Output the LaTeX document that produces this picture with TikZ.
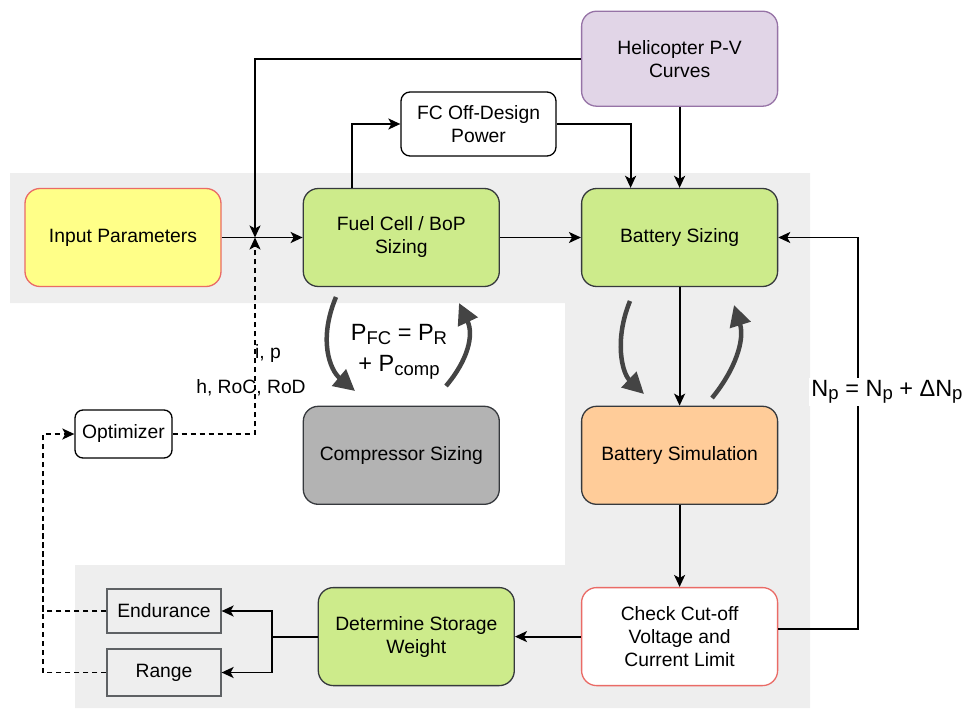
\documentclass[tikz,border=0pt]{standalone}
\usepackage{fontspec}
\setmainfont{Liberation Sans}
\usetikzlibrary{positioning, arrows.meta, backgrounds}
\definecolor{fundal}{HTML}{EEEEEE}
\definecolor{contur}{HTML}{36393D}
\definecolor{verde}{HTML}{CDEB8B}
\definecolor{galben}{HTML}{FFFF88}
\definecolor{rosu}{HTML}{EA6B66}
\definecolor{mov}{HTML}{E1D5E7}
\definecolor{movcontur}{HTML}{9673A6}
\definecolor{portocaliu}{HTML}{FFCC99}
\definecolor{gri}{HTML}{B3B3B3}
\definecolor{arc}{HTML}{444444}
\newcommand{\jos}[1]{\raisebox{-0.28ex}{\fontsize{18.5}{18.5}\selectfont #1}}

\begin{document}
\begin{tikzpicture}[
        x=1pt, y=-1pt,
        font=\fontsize{19.3}{23}\selectfont,
        bloc/.style={draw=contur, rounded corners=15pt, align=center, minimum width=196pt, minimum height=98pt, inner sep=3pt, line width=1.3pt},
        mic/.style={draw, rounded corners=9pt, align=center, inner sep=3pt, line width=1.3pt},
        rezultat/.style={draw=contur!80, fill=fundal, minimum width=114pt, inner sep=3pt, line width=1.2pt},
        eticheta/.style={align=center, inner sep=2pt},
        mare/.style={font=\fontsize{23.5}{31}\selectfont},
        sageata/.style={-{Stealth[length=12pt, width=11pt, inset=3pt]}, line width=1.8pt},
        linie/.style={line width=1.8pt},
        punctat/.style={dash pattern=on 5pt off 4pt},
        curba/.style={draw=arc, line width=4.5pt, -{Triangle[length=21pt, width=21pt]}},
    ]
        \useasboundingbox (0,0) rectangle (963,709);
        \node[bloc, fill=galben, draw=rosu] (input) at (123,237.5) {Input Parameters};
        \node[bloc, fill=verde, right=81pt of input] (fcsz) {Fuel Cell / BoP\\Sizing};
        \node[bloc, fill=verde, right=81pt of fcsz] (batsz) {Battery Sizing};
        \node[bloc, fill=mov, draw=movcontur, above=81pt of batsz, minimum height=95pt] (heli) {Helicopter P-V\\Curves};
        \node[bloc, fill=gri, below=118.5pt of fcsz] (comp) {Compressor Sizing};
        \node[bloc, fill=portocaliu, below=118.5pt of batsz] (batsim) {Battery Simulation};
        \node[bloc, fill=white, draw=rosu, below=82pt of batsim] (check) {Check Cut-off\\Voltage and\\Current Limit};
        \node[bloc, fill=verde, left=66pt of check] (det) {Determine Storage\\Weight};
        \node[mic, fill=white, minimum width=155pt, minimum height=64pt] (fcoff) at (478.5,124) {FC Off-Design\\Power};
        \node[mic, fill=white, minimum width=97pt, minimum height=48pt, rounded corners=8pt] (optim) at (123.5,434) {Optimizer};
        \node[rezultat, minimum height=44pt] (endur) at (164,611) {Endurance};
        \node[rezultat, minimum height=47pt] (range) at (164,672.5) {Range};
        \begin{scope}[on background layer]
            \fill[fundal] (10,173) -- (810,173) -- (810,708) -- (75,708) -- (75,565)
                -- (565,565) -- (565,303) -- (10,303) -- cycle;
        \end{scope}
        \coordinate (junc) at (255,237.5);
        \coordinate (npline) at (858,400);
        \coordinate (split) at ([xshift=-46pt]det.west);
        \coordinate (fbline) at (43,520);
        % main flow
        \draw[sageata] (input) -- (fcsz);
        \draw[sageata] (heli.west) -| (junc);
        \draw[sageata, punctat] (optim.east) -| (junc);
        \draw[sageata] ([xshift=-49pt]fcsz.north) |- (fcoff.west);
        \draw[sageata] (fcoff.east) -| ([xshift=-49pt]batsz.north);
        \draw[sageata] (heli) -- (batsz);
        \draw[sageata] (fcsz) -- (batsz);
        \draw[sageata] (batsz) -- (batsim);
        \draw[sageata] (batsim) -- (check);
        \draw[sageata] ([yshift=8pt]check.east) -| (npline) |- (batsz.east);
        \draw[sageata] (check) -- (det);
        \draw[linie] (det.west) -- (split);
        \draw[sageata] (split) |- (endur.east);
        \draw[sageata] (split) |- (range.east);
        % feedback to optimizer
        \draw[sageata, punctat] (endur.west) -| (fbline) |- (optim.west);
        \draw[linie, punctat] (range.west) -| (fbline);
        % labels
        \node[eticheta, mare, fill=white] (nplabel) at (887,392)
            {N\jos{p} = N\jos{p} + ΔN\jos{p}};
        \node[eticheta, anchor=west] (iplabel) at (253,354) {i, p};
        \node[eticheta] (hlabel) at (251,388) {h, RoC, RoD};
        \node[eticheta, mare] (pfclabel) at (399,352)
            {P\jos{FC} = P\jos{R}\\+ P\jos{comp}};
        % curved arrows
        \draw[curba] (336,297) .. controls (318,340) and (330,370) .. (355,391);
        \draw[curba] (446,386) .. controls (468,360) and (474,335) .. (459,303);
        \draw[curba] (630,301) .. controls (614,340) and (622,373) .. (644,394);
        \draw[curba] (712,398) .. controls (735,370) and (745,340) .. (734,305);
    \end{tikzpicture}
\end{document}
